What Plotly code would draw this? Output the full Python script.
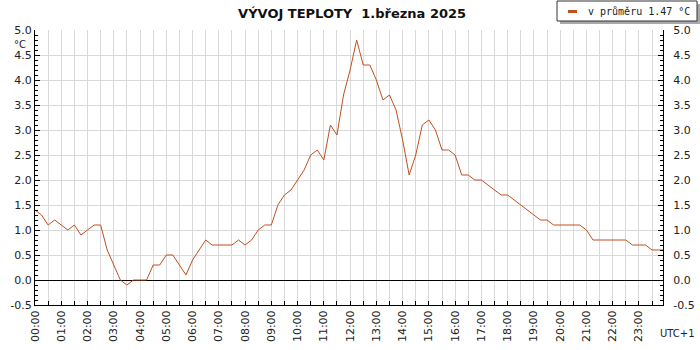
import plotly.graph_objects as go

# ---- data ----
day = "2025-03-01"
times = [f"{day} {h:02d}:{m:02d}" for h in range(24) for m in (0, 15, 30, 45)] + [f"{day} 23:55"]
temps = [
    1.4, 1.3, 1.1, 1.2,   # 00
    1.1, 1.0, 1.1, 0.9,   # 01
    1.0, 1.1, 1.1, 0.6,   # 02
    0.3, 0.0, -0.1, 0.0,  # 03
    0.0, 0.0, 0.3, 0.3,   # 04
    0.5, 0.5, 0.3, 0.1,   # 05
    0.4, 0.6, 0.8, 0.7,   # 06
    0.7, 0.7, 0.7, 0.8,   # 07
    0.7, 0.8, 1.0, 1.1,   # 08
    1.1, 1.5, 1.7, 1.8,   # 09
    2.0, 2.2, 2.5, 2.6,   # 10
    2.4, 3.1, 2.9, 3.7,   # 11
    4.2, 4.8, 4.3, 4.3,   # 12
    4.0, 3.6, 3.7, 3.4,   # 13
    2.8, 2.1, 2.5, 3.1,   # 14
    3.2, 3.0, 2.6, 2.6,   # 15
    2.5, 2.1, 2.1, 2.0,   # 16
    2.0, 1.9, 1.8, 1.7,   # 17
    1.7, 1.6, 1.5, 1.4,   # 18
    1.3, 1.2, 1.2, 1.1,   # 19
    1.1, 1.1, 1.1, 1.1,   # 20
    1.0, 0.8, 0.8, 0.8,   # 21
    0.8, 0.8, 0.8, 0.7,   # 22
    0.7, 0.7, 0.6, 0.6,   # 23
    0.6,
]
y_tick_vals = [-0.5, 0.0, 0.5, 1.0, 1.5, 2.0, 2.5, 3.0, 3.5, 4.0, 4.5, 5.0]
y_tick_labels = ["-0.5", "0.0", "0.5", "1.0", "1.5", "2.0", "2.5", "3.0", "3.5", "4.0", "4.5", "5.0"]
legend_label = "v průměru 1.47 °C"
title_text = "VÝVOJ TEPLOTY  1.března 2025"

LINE = "#c05020"
GRID = "#d9d9d9"
FONT = "DejaVu Sans"

# plot area in pixels: x 35..663, y 30..305
PL, PR, PT, PB = 35, 663, 30, 305
PW, PH = PR - PL, PB - PT


def px(x):
    return (x - PL) / PW


def py(y):
    return (PB - y) / PH


fig = go.Figure()
fig.add_trace(go.Scatter(x=times, y=temps, mode="lines", name=legend_label,
                         showlegend=False, line=dict(color=LINE, width=1)))
# dummy trace to drive the right-hand axis
fig.add_trace(go.Scatter(x=times, y=temps, mode="lines", yaxis="y2", opacity=0,
                         showlegend=False, hoverinfo="skip", line=dict(width=0)))

yaxis_common = dict(
    range=[-0.5, 5.0], tickmode="array", tickvals=y_tick_vals, ticktext=y_tick_labels,
    ticks="inside", ticklen=5, tickcolor="black", tickwidth=1,
    minor=dict(tickmode="linear", tick0=0, dtick=0.1, ticks="inside", ticklen=3,
               tickcolor="black", showgrid=False),
    showline=True, linecolor="black", linewidth=1,
    tickfont=dict(family=FONT, size=11, color="#222"),
    fixedrange=True,
)

# legend box (drawn by hand so that its size matches the reference)
LX0, LX1, LY0, LY1 = 557, 697, 1, 21

fig.update_layout(
    width=700, height=350,
    margin=dict(l=PL, r=700 - PR, t=PT, b=350 - PB, autoexpand=False),
    paper_bgcolor="white", plot_bgcolor="white",
    title=dict(text=f"<b>{title_text}</b>", x=0.503, xref="container", xanchor="center",
               y=1 - 13 / 350, yref="container", yanchor="middle",
               font=dict(family=FONT, size=13, color="#111")),
    xaxis=dict(
        type="date", range=[times[0], times[-1]],
        tickformat="%H:%M", tick0=f"{day} 00:00", dtick=3600000,
        ticks="inside", ticklen=4, tickcolor="black", tickangle=-90,
        showgrid=True, gridcolor=GRID,
        minor=dict(dtick=1800000, tick0=f"{day} 00:00", ticks="inside", ticklen=4,
                   tickcolor="black", showgrid=True, gridcolor=GRID),
        showline=True, linecolor="black", linewidth=1, zeroline=False,
        tickfont=dict(family=FONT, size=11, color="#222"),
    ),
    yaxis=dict(**yaxis_common, side="left", showgrid=True, gridcolor=GRID,
               zeroline=True, zerolinecolor="black", zerolinewidth=1),
    yaxis2=dict(**yaxis_common, side="right", overlaying="y", anchor="x",
                showgrid=False, zeroline=False, ticklabelstandoff=7),
    showlegend=False,
    annotations=[
        dict(text="°C", xref="paper", yref="paper", x=px(28), y=py(37),
             xanchor="right", showarrow=False,
             font=dict(family=FONT, size=10, color="#222")),
        dict(text="UTC+1", xref="paper", yref="paper", x=px(697), y=py(341),
             xanchor="right", showarrow=False,
             font=dict(family=FONT, size=10, color="#222")),
        dict(text=legend_label, xref="paper", yref="paper", x=px(586), y=py(11.5),
             xanchor="left", yanchor="middle", showarrow=False,
             font=dict(family="DejaVu Sans Mono", size=10, color="#222")),
    ],
    shapes=[
        dict(type="rect", xref="paper", yref="paper", layer="above",
             x0=px(LX0 + 3), x1=px(LX1 + 3), y0=py(LY1 + 3), y1=py(LY0 + 3),
             fillcolor="#a8a8a8", line=dict(width=0)),
        dict(type="rect", xref="paper", yref="paper", layer="above",
             x0=px(LX0), x1=px(LX1), y0=py(LY1), y1=py(LY0),
             fillcolor="white", line=dict(color="#333", width=1)),
        dict(type="line", xref="paper", yref="paper", layer="above",
             x0=px(568), x1=px(577), y0=py(11.5), y1=py(11.5),
             line=dict(color=LINE, width=3)),
    ],
)

fig.write_html("out.html", config={"displayModeBar": False},
               post_script="document.body.style.margin='0px';")
